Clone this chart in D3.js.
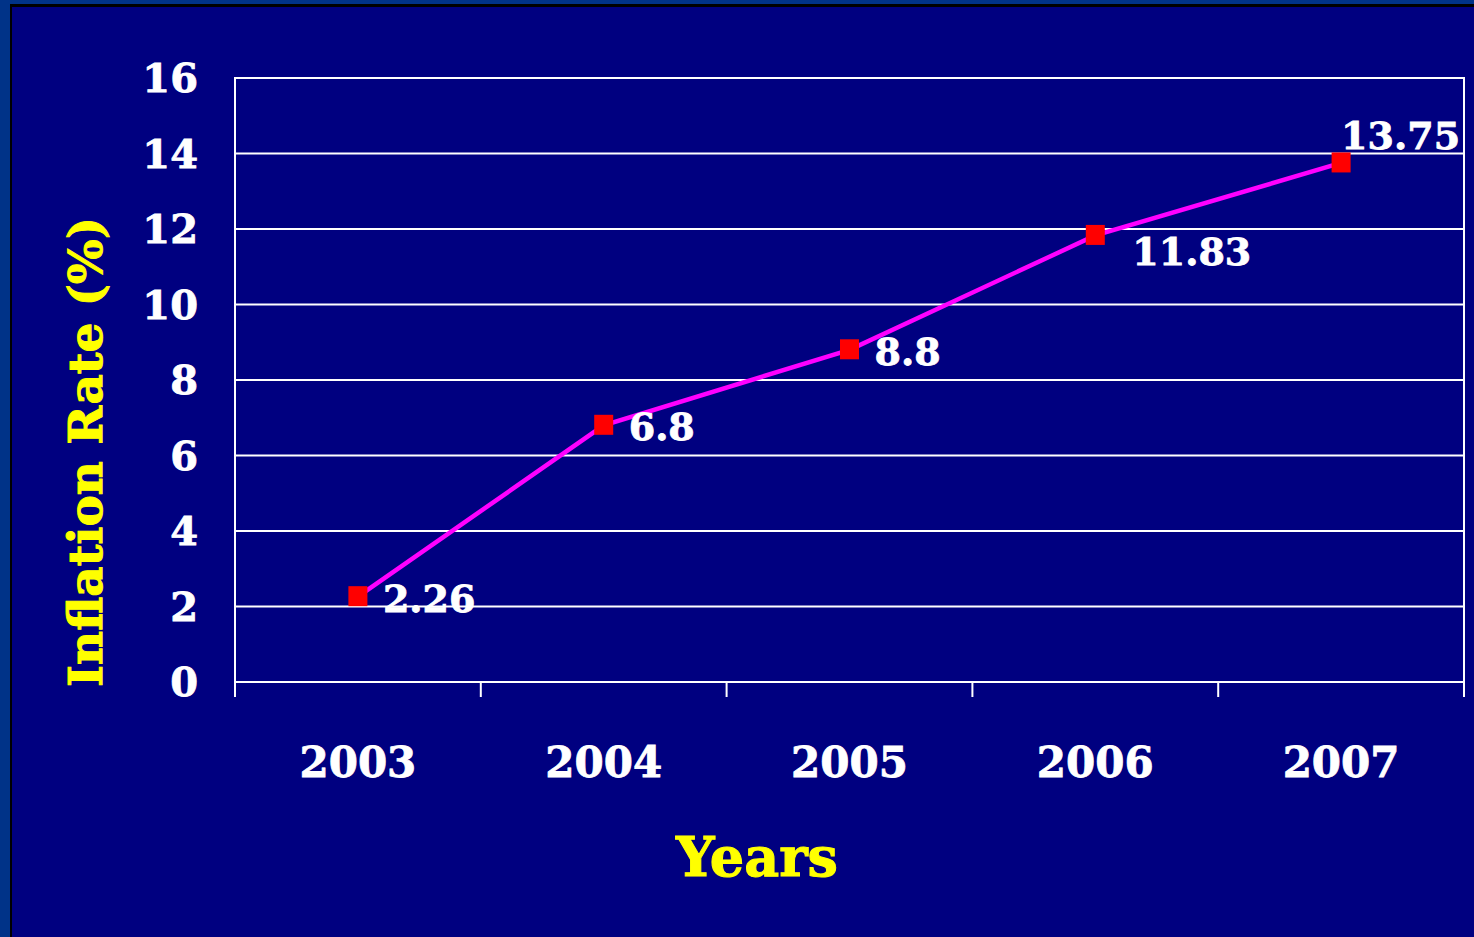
<!DOCTYPE html>
<html>
<head>
<meta charset="utf-8">
<script src="https://cdn.jsdelivr.net/npm/d3@7"></script>
<style>
  html, body { margin: 0; padding: 0; background: #003388; }
  svg { display: block; }
  text { font-family: "DejaVu Serif", "Liberation Serif", serif; font-weight: bold; }
</style>
</head>
<body>
<svg id="chart" width="1474" height="937"></svg>
<script>
// Annual inflation rate, 2003–2007
const years = ["2003", "2004", "2005", "2006", "2007"];
const inflation = [2.26, 6.8, 8.8, 11.83, 13.75];
const labelText = ["2.26", "6.8", "8.8", "11.83", "13.75"];
const labelSide = ["right", "right", "right", "below", "above"];
const yTicks = [0, 2, 4, 6, 8, 10, 12, 14, 16];

const svg = d3.select("#chart");
const W = 1474, H = 937;

// slide frame: lighter strip, black rule, navy panel
svg.append("rect").attr("x", 0).attr("y", 0).attr("width", W).attr("height", H).attr("fill", "#003388");
svg.append("rect").attr("x", 10).attr("y", 4).attr("width", W - 10).attr("height", H - 4).attr("fill", "#000000");
svg.append("rect").attr("x", 12).attr("y", 7).attr("width", W - 12).attr("height", H - 7).attr("fill", "#000080");

const plot = { left: 235, right: 1464, top: 78, bottom: 682 };

const x = d3.scaleBand().domain(years).range([plot.left, plot.right]).paddingInner(0).paddingOuter(0);
const y = d3.scaleLinear().domain([0, 16]).range([plot.bottom, plot.top]);

const g = svg.append("g");

// horizontal gridlines
g.selectAll("line.grid").data(yTicks).join("line")
  .attr("class", "grid")
  .attr("x1", plot.left).attr("x2", plot.right)
  .attr("y1", d => y(d)).attr("y2", d => y(d))
  .attr("stroke", "#ffffff").attr("stroke-width", 2);

// frame sides
[plot.left, plot.right].forEach(px => {
  g.append("line").attr("x1", px).attr("x2", px)
    .attr("y1", plot.top - 1).attr("y2", plot.bottom + 15)
    .attr("stroke", "#ffffff").attr("stroke-width", 2);
});

// category boundary ticks under the x axis
const boundaries = years.map(d => x(d)).concat([plot.right]);
g.selectAll("line.xtick").data(boundaries).join("line")
  .attr("class", "xtick")
  .attr("x1", d => d).attr("x2", d => d)
  .attr("y1", plot.bottom).attr("y2", plot.bottom + 15)
  .attr("stroke", "#ffffff").attr("stroke-width", 2);

// y tick labels
g.selectAll("text.ytick").data(yTicks).join("text")
  .attr("class", "ytick")
  .attr("x", plot.left - 37)
  .attr("y", d => y(d))
  .attr("dy", "0.36em")
  .attr("text-anchor", "end")
  .attr("fill", "#ffffff")
  .attr("stroke", "#ffffff").attr("stroke-width", 0.8)
  .attr("font-size", 40)
  .text(d => d);

// x category labels
g.selectAll("text.xcat").data(years).join("text")
  .attr("class", "xcat")
  .attr("x", d => x(d) + x.bandwidth() / 2)
  .attr("y", 777)
  .attr("text-anchor", "middle")
  .attr("fill", "#ffffff")
  .attr("stroke", "#ffffff").attr("stroke-width", 0.8)
  .attr("font-size", 42)
  .text(d => d);

// axis titles
svg.append("text")
  .attr("x", 757).attr("y", 876)
  .attr("text-anchor", "middle")
  .attr("fill", "#ffff00")
  .attr("stroke", "#ffff00").attr("stroke-width", 1)
  .attr("font-size", 54)
  .text("Years");

svg.append("text")
  .attr("transform", "translate(102,452) rotate(-90)")
  .attr("text-anchor", "middle")
  .attr("fill", "#ffff00")
  .attr("stroke", "#ffff00").attr("stroke-width", 1)
  .attr("font-size", 47)
  .text("Inflation Rate (%)");

// series line
const pts = years.map((d, i) => ({ year: d, v: inflation[i], label: labelText[i], side: labelSide[i] }));
const cx = d => x(d.year) + x.bandwidth() / 2;
const line = d3.line().x(cx).y(d => y(d.v));

g.append("path").datum(pts)
  .attr("d", line)
  .attr("fill", "none")
  .attr("stroke", "#ff00ff")
  .attr("stroke-width", 4.5);

// square markers
const m = 19;
g.selectAll("rect.marker").data(pts).join("rect")
  .attr("class", "marker")
  .attr("x", d => cx(d) - m / 2)
  .attr("y", d => y(d.v) - m / 2 - 1)
  .attr("width", m).attr("height", m + 1)
  .attr("fill", "#ff0000");

// value labels
g.selectAll("text.val").data(pts).join("text")
  .attr("class", "val")
  .attr("x", d => cx(d) + (d.side === "above" ? 0 : d.side === "below" ? 37 : 25))
  .attr("y", d => y(d.v) + (d.side === "above" ? -14 : d.side === "below" ? 30 : 15))
  .attr("fill", "#ffffff")
  .attr("stroke", "#ffffff").attr("stroke-width", 0.8)
  .attr("font-size", 38)
  .text(d => d.label);
</script>
</body>
</html>
